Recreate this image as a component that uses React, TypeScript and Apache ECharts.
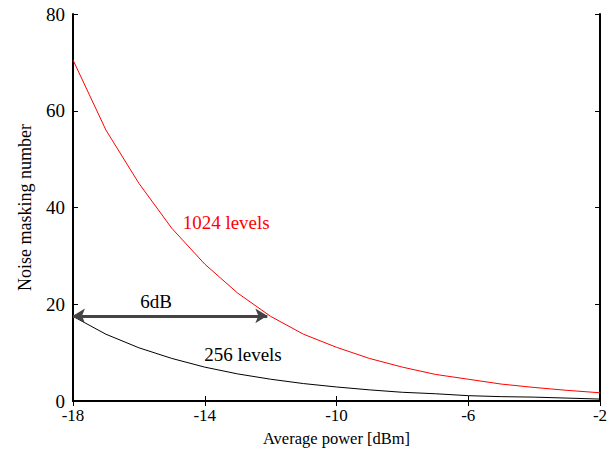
import React, { useEffect, useRef } from "react";
import * as echarts from "echarts";

const powers = [-18, -17, -16, -15, -14, -13, -12, -11, -10, -9, -8, -7, -6, -5, -4, -3, -2];
const levels1024 = [70.5, 56.0, 45.0, 35.7, 28.3, 22.3, 17.5, 13.8, 11.1, 8.8, 7.0, 5.5, 4.5, 3.5, 2.8, 2.2, 1.7];
const levels256 = [17.5, 13.8, 11.0, 8.8, 7.0, 5.6, 4.5, 3.6, 2.9, 2.3, 1.8, 1.5, 1.1, 0.9, 0.8, 0.6, 0.4];
const xTicks = [-18, -14, -10, -6, -2];
const arrowFrom = [-18, 17.6];
const arrowTo = [-12.1, 17.6];

const FONT = "Liberation Serif";

export default function App() {
  const ref = useRef<HTMLDivElement>(null);
  useEffect(() => {
    document.body.style.margin = "0";
    if (!ref.current) return;
    const chart = echarts.init(ref.current, undefined, { renderer: "svg" });
    const axisLine = { show: true, lineStyle: { color: "#000", width: 2 } };
    const tick = { show: true, inside: true, length: 5, lineStyle: { color: "#000", width: 1 } };
    chart.setOption({
      animation: false,
      backgroundColor: "#fff",
      grid: { left: 73, right: 16, top: 14, bottom: 54 },
      xAxis: [
        {
          type: "value",
          min: -18,
          max: -2,
          position: "bottom",
          axisLine,
          axisTick: { ...tick, customValues: xTicks },
          axisLabel: { fontFamily: FONT, fontSize: 17, color: "#000", margin: 6, customValues: xTicks },
          splitLine: { show: false },
          name: "Average power [dBm]",
          nameLocation: "middle",
          nameGap: 29,
          nameTextStyle: { fontFamily: FONT, fontSize: 16.5, color: "#000" },
        },
        {
          type: "value",
          min: -18,
          max: -2,
          position: "top",
          axisLine,
          axisTick: { ...tick, customValues: xTicks },
          axisLabel: { show: false, customValues: xTicks },
          splitLine: { show: false },
        },
      ],
      yAxis: [
        {
          type: "value",
          min: 0,
          max: 80,
          interval: 20,
          position: "left",
          axisLine,
          axisTick: tick,
          axisLabel: { fontFamily: FONT, fontSize: 19, color: "#000", margin: 8 },
          splitLine: { show: false },
          name: "Noise masking number",
          nameLocation: "middle",
          nameGap: 39,
          nameTextStyle: { fontFamily: FONT, fontSize: 18, color: "#000" },
        },
        {
          type: "value",
          min: 0,
          max: 80,
          interval: 20,
          position: "right",
          axisLine,
          axisTick: tick,
          axisLabel: { show: false },
          splitLine: { show: false },
        },
      ],
      series: [
        {
          type: "line",
          data: powers.map((p, i) => [p, levels1024[i]]),
          showSymbol: false,
          lineStyle: { color: "#ff0000", width: 1 },
          itemStyle: { color: "#ff0000" },
          markPoint: {
            symbol: "circle",
            symbolSize: 1,
            itemStyle: { color: "rgba(0,0,0,0)" },
            data: [
              {
                coord: [-13.35, 37.0],
                label: {
                  show: true,
                  position: "inside",
                  formatter: "1024 levels",
                  fontFamily: FONT,
                  fontSize: 19,
                  color: "#ff0000",
                },
              },
            ],
          },
        },
        {
          type: "line",
          data: powers.map((p, i) => [p, levels256[i]]),
          showSymbol: false,
          lineStyle: { color: "#000", width: 1 },
          itemStyle: { color: "#000" },
          markPoint: {
            symbol: "circle",
            symbolSize: 1,
            itemStyle: { color: "rgba(0,0,0,0)" },
            data: [
              {
                coord: [-12.84, 9.7],
                label: {
                  show: true,
                  position: "inside",
                  formatter: "256 levels",
                  fontFamily: FONT,
                  fontSize: 19,
                  color: "#000",
                },
              },
              {
                coord: [-15.48, 20.6],
                label: {
                  show: true,
                  position: "inside",
                  formatter: "6dB",
                  fontFamily: FONT,
                  fontSize: 19,
                  color: "#000",
                },
              },
            ],
          },
          markLine: {
            silent: true,
            symbol: ["arrow", "arrow"],
            symbolSize: [11, 12],
            lineStyle: { color: "#444", width: 3, type: "solid" },
            label: { show: false },
            data: [[{ coord: arrowFrom }, { coord: arrowTo }]],
          },
        },
      ],
    });
    return () => chart.dispose();
  }, []);
  return <div ref={ref} style={{ width: 616, height: 455 }} />;
}
